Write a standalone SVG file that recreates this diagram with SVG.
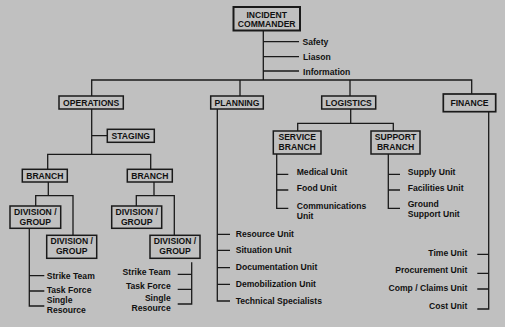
<svg xmlns="http://www.w3.org/2000/svg" width="505" height="327" viewBox="0 0 505 327">
<style>
.bg{fill:#c0c0c0}
.box{fill:#c0c0c0;stroke:#1a1a1a;stroke-width:1.5}
.ln{fill:none;stroke:#1a1a1a;stroke-width:1.3}
text{font-family:"Liberation Sans",Arial,sans-serif;font-weight:bold;font-size:8.6px;fill:#111}
.c{text-anchor:middle}
.r{text-anchor:end}
</style>
<rect class="bg" x="0" y="0" width="505" height="327"/>
<g id="connectors">
<path class="ln" d="M263.3,31 V80 M263.3,41.7 H299 M263.3,56.7 H299 M263.3,71 H299"/>
<path class="ln" d="M91.7,96 V80 H471.7 V94 M240,80 V96 M350,80 V96"/>
<path class="ln" d="M91.7,109 V154.3 M91.7,135.7 H107.3 M47.7,169.3 V154.3 H150.7 V169.3"/>
<path class="ln" d="M48.3,182 V195.7 M35.7,206 V195.7 H73 V235.3"/>
<path class="ln" d="M154,182 V195.7 M136.3,206 V195.7 H174.3 V235.3"/>
<path class="ln" d="M29.3,228.3 V306 H44.3 M29.3,275.7 H44.3 M29.3,291 H44.3"/>
<path class="ln" d="M191.7,262.3 V304 H177.7 M191.7,274.3 H177.7 M191.7,289.3 H177.7"/>
<path class="ln" d="M217.3,109 V301 H230 M217.3,234.3 H230 M217.3,250.3 H230 M217.3,267.7 H230 M217.3,284.3 H230"/>
<path class="ln" d="M350.7,109 V123.3 M297.7,131 V123.3 H393.3 V131"/>
<path class="ln" d="M276.7,154 V208.3 H288.3 M276.7,174.3 H288.3 M276.7,190 H288.3"/>
<path class="ln" d="M388.3,154 V208.3 H400 M388.3,174.3 H400 M388.3,190 H400"/>
<path class="ln" d="M488.7,111.7 V309 H477.3 M488.7,254.3 H477.3 M488.7,273.3 H477.3 M488.7,289 H477.3"/>
</g>
<g id="incident-commander">
<rect class="box" x="233.5" y="7" width="66.5" height="23.5" style="stroke-width:2"/>
<text class="c" x="266.7" y="17.5">INCIDENT</text>
<text class="c" x="266.7" y="27">COMMANDER</text>
</g>
<g id="command-staff">
<text x="302.5" y="44.7">Safety</text>
<text x="303" y="59.7">Liason</text>
<text x="303" y="74.7">Information</text>
</g>
<g id="operations">
<rect class="box" x="59" y="96" width="64.3" height="13"/>
<text class="c" x="91.2" y="105.5">OPERATIONS</text>
</g>
<g id="planning">
<rect class="box" x="210.7" y="96" width="52.6" height="13"/>
<text class="c" x="237" y="105.5">PLANNING</text>
</g>
<g id="logistics">
<rect class="box" x="321.7" y="96" width="54" height="13"/>
<text class="c" x="348.7" y="105.5">LOGISTICS</text>
</g>
<g id="finance">
<rect class="box" x="443.3" y="94" width="52.4" height="17.7" style="stroke-width:1.7"/>
<text class="c" x="469.5" y="106">FINANCE</text>
</g>
<g id="staging">
<rect class="box" x="107.3" y="129.3" width="47" height="13"/>
<text class="c" x="130.8" y="138.8">STAGING</text>
</g>
<g id="branch-1">
<rect class="box" x="22.3" y="169.3" width="45" height="12.7"/>
<text class="c" x="44.8" y="178.7">BRANCH</text>
</g>
<g id="branch-2">
<rect class="box" x="127.3" y="169.3" width="45" height="12.7"/>
<text class="c" x="149.8" y="178.7">BRANCH</text>
</g>
<g id="division-group-1a">
<rect class="box" x="10" y="206" width="50.7" height="22.3"/>
<text class="c" x="35.3" y="214.5">DIVISION /</text>
<text class="c" x="35.3" y="224.5">GROUP</text>
</g>
<g id="division-group-1b">
<rect class="box" x="46.7" y="235.3" width="50" height="23"/>
<text class="c" x="71.7" y="244">DIVISION /</text>
<text class="c" x="71.7" y="254">GROUP</text>
</g>
<g id="division-group-2a">
<rect class="box" x="111.7" y="206" width="50" height="22.3"/>
<text class="c" x="136.7" y="214.5">DIVISION /</text>
<text class="c" x="136.7" y="224.5">GROUP</text>
</g>
<g id="division-group-2b">
<rect class="box" x="150" y="235.3" width="50" height="23"/>
<text class="c" x="175" y="244">DIVISION /</text>
<text class="c" x="175" y="254">GROUP</text>
</g>
<g id="resources-left">
<text x="46.7" y="278.7">Strike Team</text>
<text x="46.7" y="292.5">Task Force</text>
<text x="46.7" y="303.3">Single</text>
<text x="46.7" y="313.3">Resource</text>
</g>
<g id="resources-right">
<text class="r" x="170.7" y="275.3">Strike Team</text>
<text class="r" x="170.7" y="289">Task Force</text>
<text class="r" x="170.7" y="301.3">Single</text>
<text class="r" x="170.7" y="311">Resource</text>
</g>
<g id="planning-units">
<text x="235.7" y="237">Resource Unit</text>
<text x="235.7" y="253">Situation Unit</text>
<text x="235.7" y="270">Documentation Unit</text>
<text x="235.7" y="287">Demobilization Unit</text>
<text x="235.7" y="304">Technical Specialists</text>
</g>
<g id="service-branch">
<rect class="box" x="273.3" y="131" width="47.7" height="23"/>
<text class="c" x="297.2" y="140">SERVICE</text>
<text class="c" x="297.2" y="150">BRANCH</text>
</g>
<g id="support-branch">
<rect class="box" x="371" y="131" width="49" height="23"/>
<text class="c" x="395.5" y="140">SUPPORT</text>
<text class="c" x="395.5" y="150">BRANCH</text>
</g>
<g id="service-units">
<text x="296.7" y="175">Medical Unit</text>
<text x="296.7" y="191">Food Unit</text>
<text x="296.7" y="209.3">Communications</text>
<text x="296.7" y="219">Unit</text>
</g>
<g id="support-units">
<text x="407.7" y="175">Supply Unit</text>
<text x="407.7" y="191">Facilities Unit</text>
<text x="407.7" y="207">Ground</text>
<text x="407.7" y="217">Support Unit</text>
</g>
<g id="finance-units">
<text class="r" x="467.3" y="255.7">Time Unit</text>
<text class="r" x="467.3" y="273">Procurement Unit</text>
<text class="r" x="467.3" y="291">Comp / Claims Unit</text>
<text class="r" x="467.3" y="309">Cost Unit</text>
</g>
</svg>
